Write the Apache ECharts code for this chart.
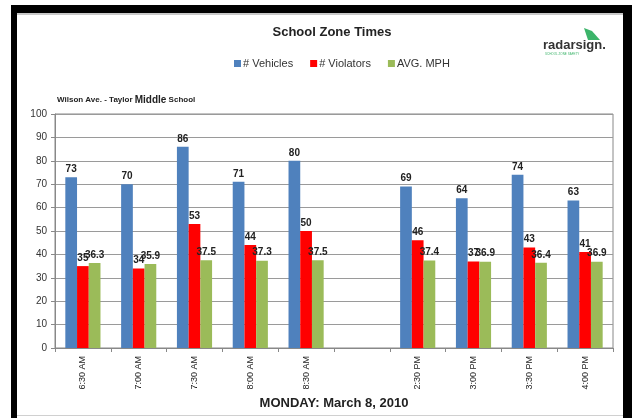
<!DOCTYPE html>
<html><head><meta charset="utf-8">
<script src="https://cdn.jsdelivr.net/npm/echarts@6/dist/echarts.min.js"></script>
<style>html,body{margin:0;padding:0;background:#fff}#c{width:632px;height:418px}</style>
</head><body><div id="c"></div>
<script>
const categories = ['6:30 AM','7:00 AM','7:30 AM','8:00 AM','8:30 AM','','2:30 PM','3:00 PM','3:30 PM','4:00 PM'];
const vehicles  = [73, 70, 86, 71, 80, null, 69, 64, 74, 63];
const violators = [35, 34, 53, 44, 50, null, 46, 37, 43, 41];
const avgMph    = [36.3, 35.9, 37.5, 37.3, 37.5, null, 37.4, 36.9, 36.4, 36.9];
const seriesNames = ['# Vehicles', '# Violators', 'AVG. MPH'];
const colors = ['#4F81BD', '#FF0000', '#9BBB59'];

const chart = echarts.init(document.getElementById('c'), null, {renderer: 'canvas'});
const font = 'Liberation Sans, Arial, sans-serif';
const lbl = {show: true, position: 'top', distance: 3, fontSize: 10, fontWeight: 'bold', color: '#222', fontFamily: font};
function mk(i, data) {
  return {name: seriesNames[i], type: 'bar', data: data, barGap: '0%', barCategoryGap: '37%',
    itemStyle: {color: colors[i]}, label: lbl};
}
chart.setOption({
  animation: false,
  textStyle: {fontFamily: font},
  title: {text: 'School Zone Times', left: 327, textAlign: 'center', top: 21,
    textStyle: {fontSize: 13, fontWeight: 'bold', color: '#222', fontFamily: font}},
  legend: {data: seriesNames, top: 53, left: 229, itemWidth: 7, itemHeight: 7, itemGap: 17,
    icon: 'rect', textStyle: {fontSize: 11, color: '#333', fontFamily: font, padding: [0,0,0,-3]}},
  grid: {left: 55, right: 19, top: 114, bottom: 70, show: true, borderColor: '#888', borderWidth: 1},
  xAxis: {type: 'category', data: categories,
    axisLine: {lineStyle: {color: '#888'}},
    axisTick: {show: true, interval: 0, length: 4, lineStyle: {color: '#888'}},
    axisLabel: {interval: 0, rotate: 90, fontSize: 9, color: '#222', margin: 8, fontFamily: font},
    name: 'MONDAY: March 8, 2010', nameLocation: 'middle', nameGap: 47,
    nameTextStyle: {fontSize: 13, fontWeight: 'bold', color: '#222', fontFamily: font}},
  yAxis: {type: 'value', min: 0, max: 100, interval: 10,
    axisLine: {show: true, lineStyle: {color: '#888'}},
    axisTick: {show: true, length: 4, lineStyle: {color: '#888'}},
    axisLabel: {fontSize: 10, color: '#333', margin: 8, fontFamily: font},
    splitLine: {lineStyle: {color: '#9a9a9a'}}},
  series: [mk(0, vehicles), mk(1, violators), mk(2, avgMph)],
  graphic: [
    {type: 'rect', shape: {x: 11, y: 5, width: 621, height: 8}, style: {fill: '#000'}},
    {type: 'rect', shape: {x: 11, y: 5, width: 6, height: 413}, style: {fill: '#000'}},
    {type: 'rect', shape: {x: 623, y: 5, width: 9, height: 413}, style: {fill: '#000'}},
    {type: 'rect', shape: {x: 17, y: 13, width: 606, height: 2}, style: {fill: '#c8c8c8'}},
    {type: 'rect', shape: {x: 17, y: 415, width: 606, height: 1}, style: {fill: '#d0d0d0'}},
    {type: 'text', left: 57, top: 95, style: {
      text: '{a|Wilson Ave. - Taylor }{b|Middle}{a| School}',
      rich: {a: {fontSize: 8, fontWeight: 'bold', fill: '#222', fontFamily: font},
             b: {fontSize: 10, fontWeight: 'bold', fill: '#222', fontFamily: font}}}},
    {type: 'polygon', shape: {points: [[584, 28], [592, 31], [600, 40], [588, 40]]}, style: {fill: '#3cb46a'}},
    {type: 'text', left: 543, top: 39, style: {text: 'radarsign.', fontSize: 13, fontWeight: 'bold', fill: '#333', fontFamily: font}},
    {type: 'text', left: 545, top: 53, style: {text: 'SCHOOL ZONE SAFETY', fontSize: 3, fill: '#3cb46a', fontFamily: font}}
  ]
});
</script></body></html>
